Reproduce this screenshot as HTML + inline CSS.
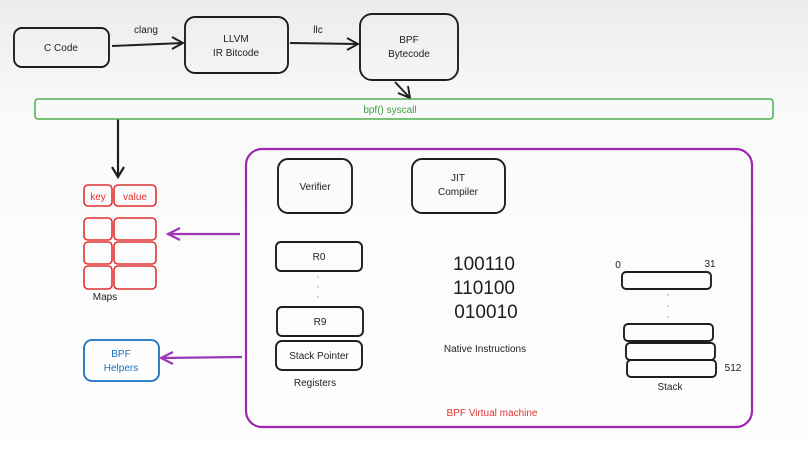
<!DOCTYPE html>
<html><head><style>
html,body{margin:0;padding:0;background:#fff;overflow:hidden}
svg{display:block}
svg text{font-family:"Liberation Sans",sans-serif}
</style></head><body>
<svg width="808" height="473" viewBox="0 0 808 473" xmlns="http://www.w3.org/2000/svg">
<defs>
<linearGradient id="bg" x1="0" y1="0" x2="0" y2="1">
<stop offset="0" stop-color="#ececec"/><stop offset="0.25" stop-color="#fafafa"/><stop offset="1" stop-color="#fff"/>
</linearGradient>
</defs>
<rect width="808" height="473" fill="url(#bg)"/>
<g fill="none" stroke="#1e1e1e" stroke-width="1.9">
<rect x="14" y="28" width="95" height="39" rx="8"/>
<rect x="185" y="17" width="103" height="56" rx="10"/>
<rect x="360" y="14" width="98" height="66" rx="12"/>
<path d="M112 46 L183 43 M172 37 L183 43 L172 49"/>
<path d="M290 43 L358 44 M347 38 L358 44 L347 50"/>
<path d="M395 82 L410 98 M398 93 L410 98 L408 86"/>
<path d="M118 119 L118 177 M112 167 L118 177 L124 167" stroke-width="2.2"/>
<rect x="278" y="159" width="74" height="54" rx="10"/>
<rect x="412" y="159" width="93" height="54" rx="10"/>
<rect x="276" y="242" width="86" height="29" rx="5"/>
<rect x="277" y="307" width="86" height="29" rx="5"/>
<rect x="276" y="341" width="86" height="29" rx="6"/>
<rect x="622" y="272" width="89" height="17" rx="4"/>
<rect x="624" y="324" width="89" height="17" rx="4"/>
<rect x="626" y="343" width="89" height="17" rx="4"/>
<rect x="627" y="360" width="89" height="17" rx="4"/>
</g>
<g fill="#999"><circle cx="318" cy="277" r="0.7"/><circle cx="318" cy="287" r="0.7"/><circle cx="318" cy="297" r="0.7"/>
<circle cx="668" cy="295" r="0.7"/><circle cx="668" cy="306" r="0.7"/><circle cx="668" cy="317" r="0.7"/></g>
<rect x="35" y="99" width="738" height="20" rx="3" fill="none" stroke="#4caf50" stroke-width="1.5"/>
<rect x="246" y="149" width="506" height="278" rx="16" fill="none" stroke="#9c27b0" stroke-width="2.2"/>
<g fill="none" stroke="#e03131" stroke-width="1.6">
<rect x="84" y="185" width="28" height="21" rx="4"/><rect x="114" y="185" width="42" height="21" rx="4"/>
<rect x="84" y="218" width="28" height="22" rx="4"/><rect x="114" y="218" width="42" height="22" rx="4"/>
<rect x="84" y="242" width="28" height="22" rx="4"/><rect x="114" y="242" width="42" height="22" rx="4"/>
<rect x="84" y="266" width="28" height="23" rx="4"/><rect x="114" y="266" width="42" height="23" rx="4"/>
</g>
<rect x="84" y="340" width="75" height="41" rx="8" fill="none" stroke="#1971c2" stroke-width="1.8"/>
<g fill="none" stroke="#9c36b5" stroke-width="2.2">
<path d="M240 234 L168 234 M180 228 L168 234 L180 240"/>
<path d="M242 357 L161 358 M173 352 L161 358 L173 364"/>
</g>
<g font-size="10" fill="#1e1e1e" text-anchor="middle">
<text x="61" y="51">C Code</text>
<text x="146" y="33">clang</text>
<text x="236" y="42">LLVM</text><text x="236" y="56">IR Bitcode</text>
<text x="318" y="33">llc</text>
<text x="409" y="43">BPF</text><text x="409" y="57">Bytecode</text>
<text x="315" y="190">Verifier</text>
<text x="458" y="181">JIT</text><text x="458" y="195">Compiler</text>
<text x="319" y="260">R0</text>
<text x="320" y="325">R9</text>
<text x="319" y="359">Stack Pointer</text>
<text x="315" y="386">Registers</text>
<text x="485" y="352">Native Instructions</text>
<text x="105" y="300">Maps</text>
<text x="670" y="390">Stack</text>
<text x="618" y="268">0</text><text x="710" y="267">31</text>
<text x="733" y="371">512</text>
</g>
<g font-size="19" fill="#1e1e1e" text-anchor="middle">
<text x="484" y="270">100110</text><text x="484" y="294">110100</text><text x="486" y="318">010010</text>
</g>
<g font-size="10" text-anchor="middle">
<text x="390" y="113" fill="#40a040">bpf() syscall</text>
<text x="98" y="200" fill="#e03131">key</text>
<text x="135" y="200" fill="#e03131">value</text>
<text x="121" y="357" fill="#1971c2">BPF</text><text x="121" y="371" fill="#1971c2">Helpers</text>
<text x="492" y="416" fill="#e03131">BPF Virtual machine</text>
</g>
</svg>
</body></html>
